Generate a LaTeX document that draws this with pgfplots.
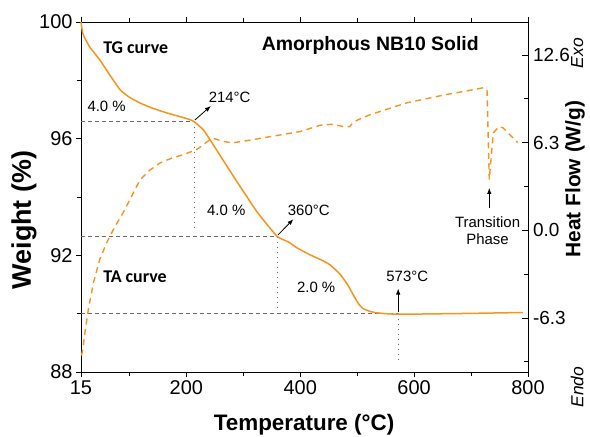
\documentclass[border=0pt]{standalone}
\usepackage{pgfplots}
\pgfplotsset{compat=1.18}
\usepackage{fontspec}
\setmainfont{Liberation Sans}
\newfontfamily\carlito{Carlito}
\usetikzlibrary{arrows.meta}
\definecolor{tgorange}{RGB}{247,148,30}
\definecolor{guide}{RGB}{105,105,105}

\pgfplotstableread{
T w
15 100.0
16.5 99.8
18 99.62
21 99.47
25.5 99.31
31 99.12
40 98.9
48 98.7
65 98.2
84 97.67
100 97.42
119 97.22
140 97.05
166 96.88
190 96.75
205 96.66
214 96.58
230 96.3
242 95.95
265 95.25
288 94.55
305 94.05
323 93.52
340 93.1
360 92.64
380 92.45
394 92.26
417 92.02
435 91.86
452 91.68
470 91.35
483 91.0
493 90.65
502 90.35
510 90.18
522 90.08
534 90.03
550 90.0
573 89.98
620 89.99
700 90.01
760 90.03
791 90.04
}\tgdata

\pgfplotstableread{
T hf
16 -9.0
19 -8.3
22 -7.3
28 -5.66
37 -3.74
48 -2.08
60 -0.9
72 0.07
89 1.27
107 2.7
119 3.65
135 4.3
154 4.85
175 5.2
195 5.44
218 5.8
241 6.5
250 6.58
262 6.42
280 6.28
300 6.4
347 6.73
400 7.1
435 7.55
455 7.62
475 7.47
487 7.45
493 7.75
502 7.95
522 8.3
587 9.16
654 9.74
690 10.0
721 10.24
728 10.1
732 3.65
739 7.0
749 7.45
756 7.37
782 6.3
}\tadata

\begin{document}
\begin{tikzpicture}
\useasboundingbox (-81bp,-65bp) rectangle (509bp,372bp);
\begin{axis}[
  at={(0,0)}, anchor=south west,
  scale only axis, width=447bp, height=350bp,
  xmin=15, xmax=800, ymin=88, ymax=100,
  axis x line*=box, axis y line*=left,
  xtick={15,200,400,600,800}, minor xtick={100,300,500,700},
  ytick={88,92,96,100}, minor ytick={90,94,98},
  tick align=outside,
  major tick length=5bp, minor tick length=3.5bp,
  every tick/.style={black, line width=0.8bp},
  axis line style={line width=0.8bp},
  /pgf/number format/assume math mode=true,
  tick label style={font=\fontsize{20}{24}\selectfont},
  xlabel={Temperature (°C)}, ylabel={Weight (\%)},
  xlabel style={font=\bfseries\fontsize{22.5}{27}\selectfont, at={(rel axis cs:0.499,-0.168)}, anchor=base},
  ylabel style={font=\bfseries\fontsize{27}{32}\selectfont, at={(rel axis cs:-0.1275,0.434)}, anchor=center},
  clip=false,
]
% guide lines
\addplot[guide, line width=0.9bp, dash pattern=on 4bp off 3bp] coordinates {(15,96.58) (214,96.58)};
\addplot[guide, line width=0.9bp, dash pattern=on 4bp off 3bp] coordinates {(15,92.64) (360,92.64)};
\addplot[guide, line width=0.9bp, dash pattern=on 4bp off 3bp] coordinates {(15,90.0) (573,90.0)};
\addplot[guide, line width=0.9bp, dash pattern=on 1bp off 4bp] coordinates {(214,96.58) (214,92.9)};
\addplot[guide, line width=0.9bp, dash pattern=on 1bp off 4bp] coordinates {(360,92.64) (360,90.1)};
\addplot[guide, line width=0.9bp, dash pattern=on 1bp off 4bp] coordinates {(572,90.0) (572,88.3)};
% TG curve
\addplot[tgorange, line width=1.5bp, smooth, tension=0.3] table[x=T, y=w] {\tgdata};
% annotations
\node[anchor=west, font=\carlito\bfseries\fontsize{18}{22}\selectfont] at (axis cs:48,99.11) {TG curve};
\node[anchor=west, font=\carlito\bfseries\fontsize{18}{22}\selectfont] at (axis cs:48,91.27) {TA curve};
\node[font=\bfseries\fontsize{19.5}{23}\selectfont] at (axis cs:523,99.18) {Amorphous NB10 Solid};
\node[font=\fontsize{15}{18}\selectfont] at (axis cs:60,97.12) {4.0 \%};
\node[font=\fontsize{15}{18}\selectfont] at (axis cs:270,93.55) {4.0 \%};
\node[font=\fontsize{15}{18}\selectfont] at (axis cs:428,90.9) {2.0 \%};
\node[font=\fontsize{15}{18}\selectfont] at (axis cs:276,97.43) {214°C};
\node[font=\fontsize{15}{18}\selectfont] at (axis cs:415,93.55) {360°C};
\node[font=\fontsize{15}{18}\selectfont] at (axis cs:588,91.27) {573°C};
\node[font=\fontsize{15}{17.5}\selectfont, align=center] at (axis cs:729,92.85) {Transition\\Phase};
\draw[-{Latex[length=6bp,width=4.5bp]}, line width=0.8bp] (axis cs:215,96.64) -- (axis cs:243,97.12);
\draw[-{Latex[length=6bp,width=4.5bp]}, line width=0.8bp] (axis cs:361,92.70) -- (axis cs:388,93.24);
\draw[-{Latex[length=6bp,width=4.5bp]}, line width=0.8bp] (axis cs:572,90.07) -- (axis cs:572,90.86);
\draw[-{Latex[length=6bp,width=4.5bp]}, line width=0.8bp] (axis cs:732,93.62) -- (axis cs:732,94.31);
\end{axis}
\begin{axis}[
  at={(0,0)}, anchor=south west,
  scale only axis, width=447bp, height=350bp,
  xmin=15, xmax=800, ymin=-10.18, ymax=14.97,
  axis x line=none, axis y line*=right,
  ytick={-6.3,0,6.3,12.6}, yticklabels={-6.3,0.0,6.3,12.6},
  minor ytick={-9.45,-3.15,3.15,9.45},
  tick align=inside,
  major tick length=6bp, minor tick length=4bp,
  every tick/.style={black, line width=0.8bp},
  axis line style={line width=0.8bp},
  /pgf/number format/assume math mode=true,
  yticklabel style={font=\fontsize{19}{23}\selectfont, xshift=1.5bp},
  ylabel={Heat Flow (W/g)},
  ylabel style={font=\bfseries\fontsize{21}{25}\selectfont, at={(rel axis cs:1.105,0.551)}, anchor=center},
  clip=false,
]
\addplot[tgorange, line width=1.4bp, dash pattern=on 6bp off 4.5bp] table[x=T, y=hf] {\tadata};
\node[rotate=90, font=\itshape\fontsize{17.5}{21}\selectfont] at (rel axis cs:1.110,0.911) {Exo};
\node[rotate=90, font=\itshape\fontsize{17.5}{21}\selectfont] at (rel axis cs:1.110,-0.043) {Endo};
\end{axis}
\end{tikzpicture}
\end{document}
